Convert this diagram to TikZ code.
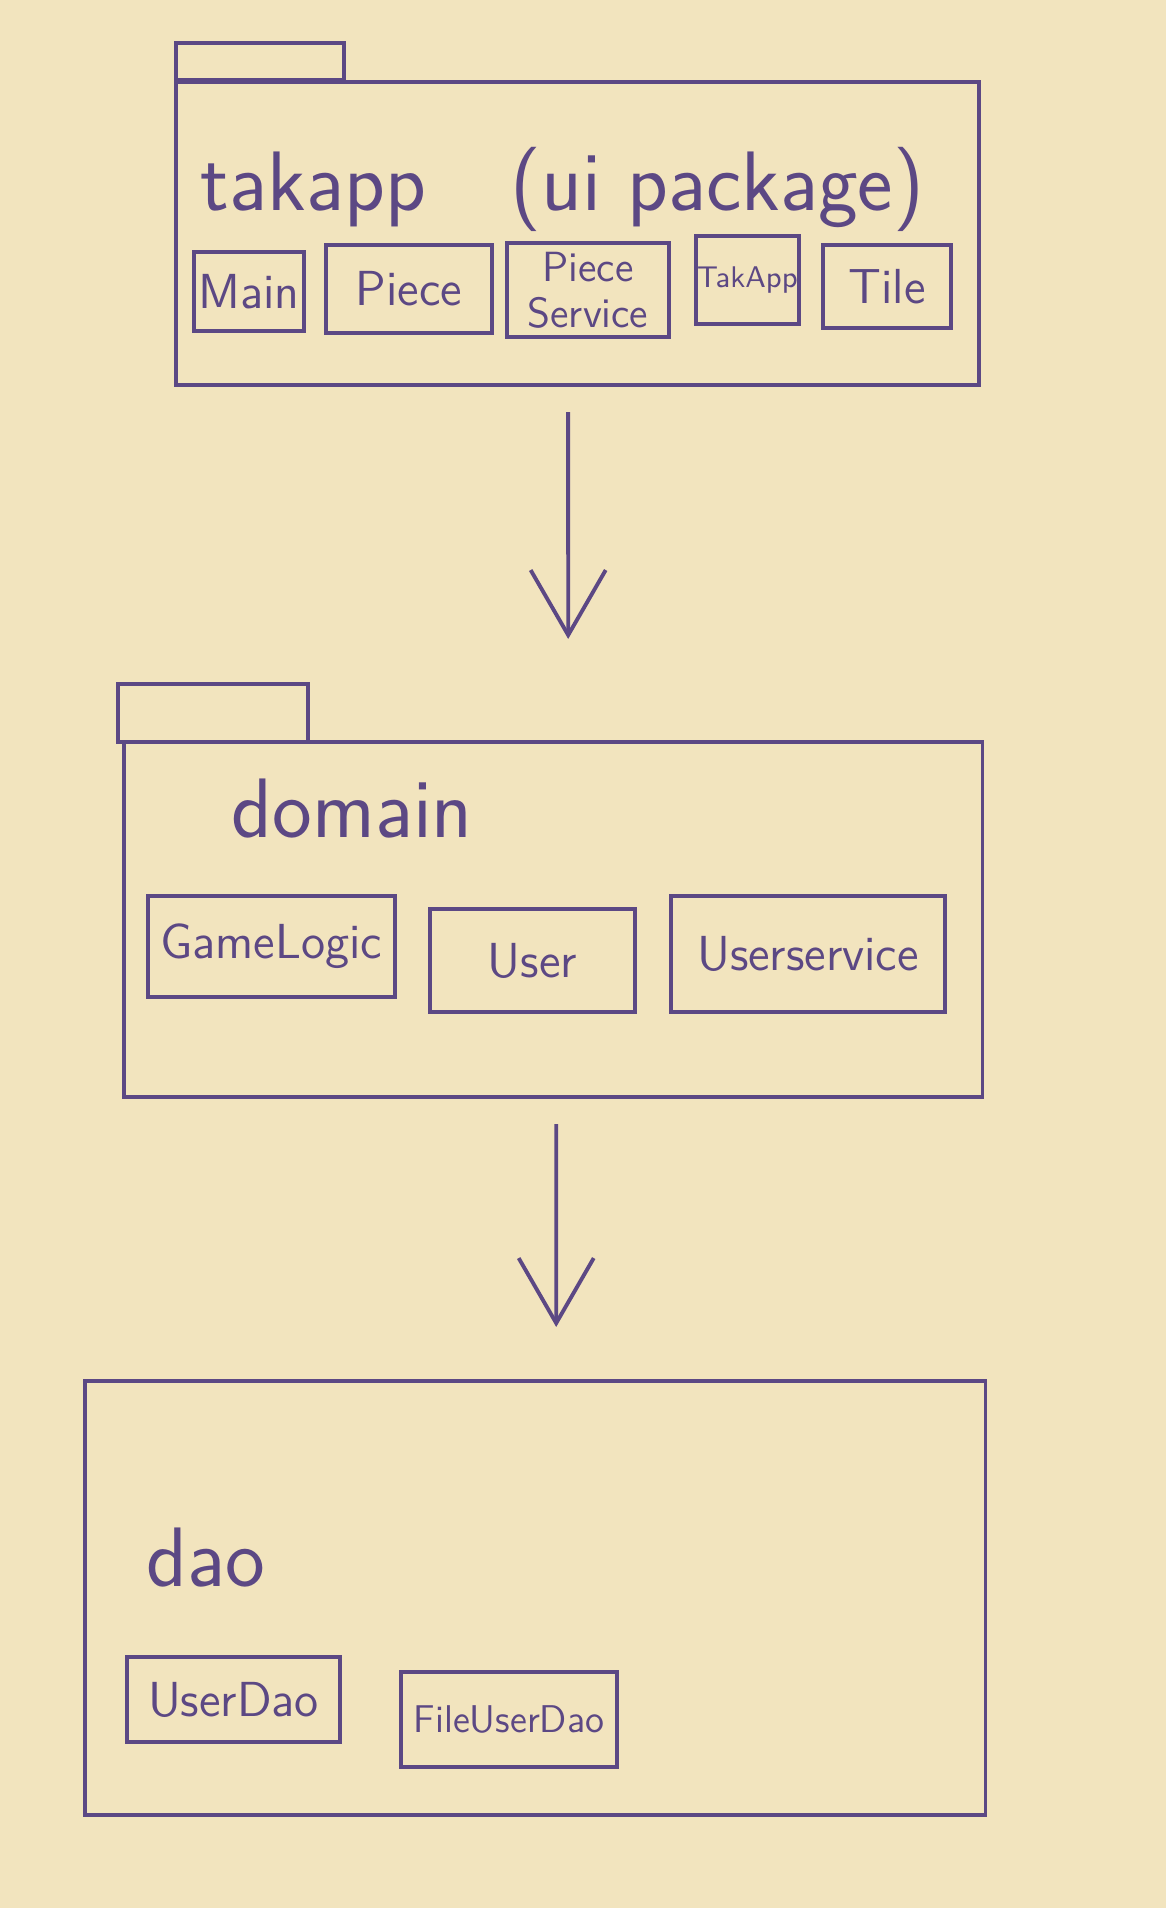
\documentclass[tikz,border=0pt]{standalone}
\usepackage{tikz}
\usetikzlibrary{arrows.meta,positioning}
\definecolor{paper}{RGB}{242,228,190}
\definecolor{ink}{RGB}{92,72,132}

\begin{document}
\begin{tikzpicture}[x=0.01cm,y=-0.01cm,
  pkg/.style={draw=ink, line width=1.1pt, anchor=north west, inner sep=0pt},
  tab/.style={draw=ink, line width=1.1pt},
  cls/.style={draw=ink, line width=1.1pt, text=ink, anchor=north west, inner sep=0pt, align=center, font=\sffamily\fontsize{14}{15}\selectfont},
  pkgname/.style={text=ink, anchor=west, inner sep=0pt, font=\sffamily\fontsize{24}{28}\selectfont},
  dep/.style={draw=ink, line width=1.1pt, -{Straight Barb[length=0.65cm, width=0.75cm, line width=1.1pt]}}]
\fill[paper] (0,0) rectangle (1166,1908);

% takapp
\draw[tab] (176,80) rectangle (344,43);
\node[pkg, minimum width=8.03cm, minimum height=3.03cm] (takapp) at (174,80) {};
\node[pkgname] (takappname) at (200,189) {takapp\quad (ui package)};
\node[cls, minimum width=1.10cm, minimum height=0.79cm] (main) at (192,250) {Main};
\node[cls, minimum width=1.66cm, minimum height=0.88cm] (piece) at (324,243) {Piece};
\node[cls, minimum width=1.62cm, minimum height=0.94cm, font=\sffamily\fontsize{12}{13}\selectfont] (pieceservice) at (505,241) {Piece\\Service};
\node[cls, minimum width=1.03cm, minimum height=0.88cm, font=\sffamily\fontsize{8.5}{10}\selectfont] (takappcls) at (694,234) {TakApp};
\node[cls, minimum width=1.28cm, minimum height=0.83cm] (tile) at (821,243) {Tile};

% domain
\draw[tab] (118,742) rectangle (308,684);
\node[pkg, minimum width=8.58cm, minimum height=3.55cm] (domain) at (122,740) {};
\node[pkgname] (domainname) at (231,809) {domain};
\node[cls, minimum width=2.47cm, minimum height=1.01cm] (gamelogic) at (146,894) {GameLogic};
\node[cls, minimum width=2.05cm, minimum height=1.03cm] (user) at (428,907) {User};
\node[cls, minimum width=2.74cm, minimum height=1.16cm] (userservice) at (669,894) {Userservice};

% dao
\node[pkg, minimum width=9.00cm, minimum height=4.34cm] (dao) at (83,1379) {};
\node[pkgname] (daoname) at (146,1558) {dao};
\node[cls, minimum width=2.13cm, minimum height=0.85cm] (userdao) at (125,1655) {UserDao};
\node[cls, minimum width=2.16cm, minimum height=0.95cm, font=\sffamily\fontsize{11}{12}\selectfont] (fileuserdao) at (399,1670) {FileUserDao};

\draw[dep] ([xshift=-0.095cm, yshift=-0.25cm]takapp.south) -- ([xshift=0.15cm, yshift=1.01cm]domain.north);
\draw[dep] ([xshift=0.03cm, yshift=-0.25cm]domain.south) -- ([xshift=0.21cm, yshift=0.52cm]dao.north);
\end{tikzpicture}
\end{document}
